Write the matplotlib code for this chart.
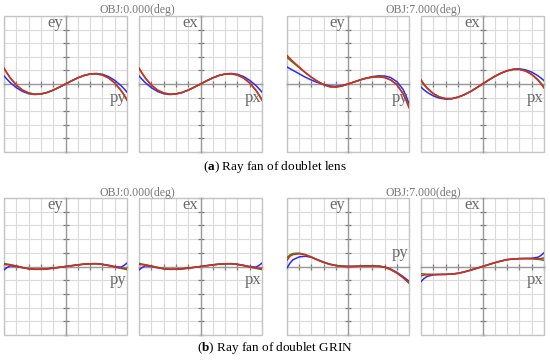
import numpy as np
import matplotlib.pyplot as plt
from matplotlib.patches import Rectangle

plt.rcParams['font.family'] = 'Liberation Serif'
plt.rcParams['mathtext.fontset'] = 'custom'
plt.rcParams['mathtext.rm'] = 'Liberation Serif'
plt.rcParams['mathtext.bf'] = 'Liberation Serif:bold'

# normalised pupil coordinate (py / px)
pupil = [-1, -0.95, -0.9, -0.8, -0.7, -0.6, -0.5, -0.4, -0.3, -0.2, -0.1, 0,
         0.1, 0.2, 0.3, 0.4, 0.5, 0.6, 0.7, 0.8, 0.9, 0.95, 1]

# (a) doublet lens, OBJ 0 deg (ey and ex look the same)
lens0_blue = [0.12, 0.068, 0.022, -0.054, -0.109, -0.143, -0.155, -0.148, -0.125, -0.090, -0.047, 0,
              0.047, 0.090, 0.125, 0.148, 0.155, 0.143, 0.109, 0.054, -0.022, -0.068, -0.12]
lens0_green = [0.23, 0.156, 0.09, -0.016, -0.089, -0.132, -0.150, -0.146, -0.125, -0.090, -0.047, 0,
               0.047, 0.090, 0.125, 0.146, 0.150, 0.132, 0.089, 0.016, -0.09, -0.156, -0.23]
lens0_red = [0.235, 0.161, 0.093, -0.015, -0.089, -0.132, -0.150, -0.146, -0.125, -0.090, -0.047, 0,
             0.047, 0.090, 0.125, 0.146, 0.150, 0.132, 0.089, 0.015, -0.093, -0.161, -0.24]

# (a) doublet lens, OBJ 7 deg, ey
lens7y_blue = [0.25, 0.225, 0.2, 0.15, 0.10, 0.058, 0.022, -0.006, -0.028, -0.035, -0.022, 0,
               0.03, 0.06, 0.088, 0.108, 0.12, 0.118, 0.095, 0.035, -0.075, -0.17, -0.29]
lens7y_green = [0.39, 0.352, 0.313, 0.24, 0.165, 0.098, 0.04, -0.01, -0.04, -0.045, -0.03, 0,
                0.03, 0.06, 0.085, 0.10, 0.105, 0.095, 0.06, -0.008, -0.135, -0.228, -0.34]
lens7y_red = [0.42, 0.375, 0.33, 0.25, 0.17, 0.10, 0.04, -0.01, -0.04, -0.045, -0.03, 0,
              0.03, 0.06, 0.085, 0.10, 0.105, 0.095, 0.06, -0.01, -0.14, -0.235, -0.35]

# (a) doublet lens, OBJ 7 deg, ex
lens7x_blue = [-0.045, -0.088, -0.122, -0.175, -0.208, -0.223, -0.218, -0.195, -0.159, -0.113, -0.058, 0,
               0.058, 0.113, 0.159, 0.195, 0.218, 0.223, 0.208, 0.175, 0.122, 0.088, 0.05]
lens7x_green = [0.05, -0.015, -0.066, -0.144, -0.193, -0.215, -0.214, -0.194, -0.159, -0.113, -0.058, 0,
                0.058, 0.113, 0.159, 0.194, 0.214, 0.215, 0.193, 0.144, 0.066, 0.015, -0.045]
lens7x_red = [0.065, -0.003, -0.057, -0.139, -0.190, -0.214, -0.214, -0.194, -0.159, -0.113, -0.058, 0,
              0.058, 0.113, 0.159, 0.194, 0.214, 0.214, 0.190, 0.139, 0.057, 0.003, -0.06]

# (b) doublet GRIN, OBJ 0 deg (ey and ex look the same)
grin0_blue = [-0.05, -0.015, 0.01, 0.0, -0.018, -0.033, -0.042, -0.04, -0.034, -0.024, -0.012, 0,
              0.012, 0.024, 0.034, 0.04, 0.042, 0.033, 0.018, 0.0, -0.01, 0.015, 0.05]
grin0_green = [0.045, 0.036, 0.027, 0.008, -0.014, -0.031, -0.04, -0.04, -0.034, -0.024, -0.012, 0,
               0.012, 0.024, 0.034, 0.04, 0.04, 0.031, 0.014, -0.008, -0.027, -0.036, -0.045]
grin0_red = [0.028, 0.026, 0.022, 0.007, -0.014, -0.031, -0.04, -0.04, -0.034, -0.024, -0.012, 0,
             0.012, 0.024, 0.034, 0.04, 0.04, 0.031, 0.014, -0.007, -0.022, -0.026, -0.028]

# (b) doublet GRIN, OBJ 7 deg, ey
grin7y_blue = [-0.02, 0.05, 0.1, 0.14, 0.15, 0.135, 0.1, 0.065, 0.035, 0.015, 0.004, 0,
               0.002, 0.005, 0.008, 0.009, 0.006, -0.006, -0.038, -0.085, -0.145, -0.18, -0.215]
grin7y_green = [0.13, 0.17, 0.19, 0.195, 0.175, 0.14, 0.097, 0.06, 0.032, 0.014, 0.004, 0,
                0.002, 0.005, 0.008, 0.008, 0.004, -0.01, -0.045, -0.095, -0.16, -0.2, -0.24]
grin7y_red = [0.09, 0.15, 0.175, 0.185, 0.17, 0.135, 0.095, 0.06, 0.032, 0.014, 0.004, 0,
              0.002, 0.005, 0.008, 0.008, 0.004, -0.01, -0.045, -0.095, -0.16, -0.2, -0.24]

# (b) doublet GRIN, OBJ 7 deg, ex
grin7x_blue = [-0.22, -0.175, -0.145, -0.122, -0.117, -0.115, -0.11, -0.1, -0.08, -0.055, -0.028, 0,
               0.028, 0.055, 0.08, 0.1, 0.11, 0.115, 0.117, 0.12, 0.135, 0.16, 0.2]
grin7x_green = [-0.105, -0.11, -0.113, -0.116, -0.116, -0.115, -0.11, -0.1, -0.08, -0.055, -0.028, 0,
                0.028, 0.055, 0.08, 0.1, 0.11, 0.115, 0.116, 0.113, 0.105, 0.1, 0.09]
grin7x_red = [-0.135, -0.125, -0.12, -0.117, -0.116, -0.115, -0.11, -0.1, -0.08, -0.055, -0.028, 0,
              0.028, 0.055, 0.08, 0.1, 0.11, 0.115, 0.116, 0.115, 0.113, 0.116, 0.125]

W, H = 550, 361
fig = plt.figure(figsize=(W / 100, H / 100), dpi=100)

GRID_C = '#dadada'
AXIS_C = '#9a9a9a'
TEXT_C = '#6a6a6a'


def panel(x0, y0, x1, y1, blue, green, red, elab, plab, plab_y):
    ax = fig.add_axes([x0 / W, 1 - y1 / H, (x1 - x0) / W, (y1 - y0) / H])
    ax.set_xlim(-1, 1)
    ax.set_ylim(-1, 1)
    ticks = np.linspace(-1, 1, 11)
    ax.set_xticks(ticks)
    ax.set_yticks(ticks)
    ax.grid(True, color=GRID_C, lw=0.8)
    ax.set_axisbelow(True)
    for s in ['top', 'right']:
        ax.spines[s].set_visible(False)
    for s in ['left', 'bottom']:
        ax.spines[s].set_position('zero')
        ax.spines[s].set_color(AXIS_C)
        ax.spines[s].set_linewidth(1.0)
    ax.tick_params(direction='inout', length=5, width=0.9, color='#7a7a7a',
                   labelleft=False, labelbottom=False)
    ax.add_patch(Rectangle((0, 0), 1, 1, transform=ax.transAxes, fill=False,
                           ec='#c4c4c4', lw=1.0, clip_on=False, zorder=1))
    ax.plot(pupil, blue, color='#2a2aff', lw=1.1, zorder=3)
    ax.plot(pupil, green, color='#109a10', lw=1.1, zorder=3)
    ax.plot(pupil, red, color='#e8231e', lw=1.1, zorder=3)
    ax.text(-0.04, 0.9, elab, ha='right', va='center', fontsize=12, color=TEXT_C)
    ax.text(0.85, plab_y, plab, ha='center', va='center', fontsize=12, color=TEXT_C)
    return ax


# top row: doublet lens
panel(4, 16, 127, 152, lens0_blue, lens0_green, lens0_red, 'ey', 'py', -0.2)
panel(139, 16, 262, 152, lens0_blue, lens0_green, lens0_red, 'ex', 'px', -0.2)
panel(287, 16, 409, 152, lens7y_blue, lens7y_green, lens7y_red, 'ey', 'py', -0.2)
panel(421, 16, 544, 152, lens7x_blue, lens7x_green, lens7x_red, 'ex', 'px', -0.2)

# bottom row: doublet GRIN
panel(4, 198, 127, 335, grin0_blue, grin0_green, grin0_red, 'ey', 'py', -0.2)
panel(139, 198, 262, 335, grin0_blue, grin0_green, grin0_red, 'ex', 'px', -0.2)
panel(287, 198, 409, 335, grin7y_blue, grin7y_green, grin7y_red, 'ey', 'py', 0.2)
panel(421, 198, 544, 335, grin7x_blue, grin7x_green, grin7x_red, 'ex', 'px', -0.2)

for cx, cy, t in [(137, 10, 'OBJ:0.000(deg)'), (423, 10, 'OBJ:7.000(deg)'),
                  (137, 193, 'OBJ:0.000(deg)'), (423, 193, 'OBJ:7.000(deg)')]:
    fig.text(cx / W, 1 - cy / H, t, ha='center', va='center', fontsize=8.5, color='#777777')

fig.text(275 / W, 1 - 167 / H, r'($\mathbf{a}$) Ray fan of doublet lens',
         ha='center', va='center', fontsize=9.5, color='black')
fig.text(275 / W, 1 - 348 / H, r'($\mathbf{b}$) Ray fan of doublet GRIN',
         ha='center', va='center', fontsize=9.5, color='black')

fig.savefig('out.png', dpi=100)
